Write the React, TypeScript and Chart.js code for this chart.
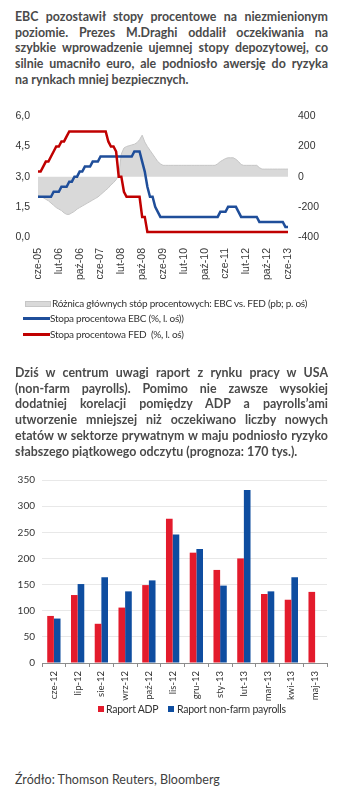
import React, { useEffect, useRef } from "react";
import { Chart, registerables } from "chart.js";

Chart.register(...registerables);

// ---------- Chart 1: monthly data, cze-05 .. cze-13 ----------
const MONTH_NAMES = ["sty", "lut", "mar", "kwi", "maj", "cze", "lip", "sie", "wrz", "paź", "lis", "gru"];
const RATE_LABELS: string[] = [];
for (let i = 0; i < 97; i++) {
  const m = (5 + i) % 12;
  const y = 5 + Math.floor((5 + i) / 12);
  RATE_LABELS.push(`${MONTH_NAMES[m]}-${String(y).padStart(2, "0")}`);
}

const FED_RATE = [
  3.25, 3.25, 3.5, 3.75, 3.75, 4.0, 4.25, 4.5, 4.5, 4.75, 4.75, 5.0, 5.25,
  5.25, 5.25, 5.25, 5.25, 5.25, 5.25, 5.25, 5.25, 5.25, 5.25, 5.25, 5.25, 5.25, 5.25,
  4.75, 4.5, 4.5, 4.25, 3.0, 3.0, 2.25,
  2.0, 2.0, 2.0, 2.0, 2.0, 2.0,
  1.0, 1.0,
  0.25, 0.25, 0.25, 0.25, 0.25, 0.25, 0.25, 0.25, 0.25, 0.25,
  0.25, 0.25, 0.25, 0.25, 0.25, 0.25, 0.25, 0.25, 0.25, 0.25,
  0.25, 0.25, 0.25, 0.25, 0.25, 0.25, 0.25, 0.25, 0.25, 0.25,
  0.25, 0.25, 0.25, 0.25, 0.25, 0.25, 0.25, 0.25, 0.25, 0.25,
  0.25, 0.25, 0.25, 0.25, 0.25, 0.25, 0.25, 0.25, 0.25, 0.25,
  0.25, 0.25, 0.25, 0.25, 0.25,
];

const EBC_RATE = [
  2.0, 2.0, 2.0, 2.0, 2.0, 2.0,
  2.25, 2.25, 2.25,
  2.5, 2.5, 2.5,
  2.75, 2.75,
  3.0, 3.0,
  3.25, 3.25,
  3.5, 3.5, 3.5,
  3.75, 3.75, 3.75,
  4.0, 4.0, 4.0, 4.0, 4.0, 4.0, 4.0, 4.0, 4.0, 4.0, 4.0, 4.0, 4.0,
  4.25, 4.25, 4.25,
  3.75, 3.25, 2.5, 2.0, 2.0, 1.5, 1.25,
  1.0, 1.0, 1.0, 1.0, 1.0, 1.0, 1.0, 1.0, 1.0, 1.0,
  1.0, 1.0, 1.0, 1.0, 1.0, 1.0, 1.0, 1.0, 1.0, 1.0,
  1.0, 1.0, 1.0,
  1.25, 1.25, 1.25,
  1.5, 1.5, 1.5, 1.5,
  1.25,
  1.0, 1.0, 1.0, 1.0, 1.0, 1.0, 1.0,
  0.75, 0.75, 0.75, 0.75, 0.75, 0.75, 0.75, 0.75, 0.75, 0.75,
  0.5, 0.5,
];

const RATE_SPREAD_BP = [
  -125, -130, -140, -150, -160, -175, -190, -205, -215, -225, -240, -250, -250,
  -240, -230, -215, -205, -195, -185, -175, -165, -155, -145, -135, -120, -105, -90,
  -75, -55, -40, -20, 10, 150, 190, 200, 205, 210, 215, 225, 245, 275,
  230, 200, 175, 150, 125, 100, 85,
  75, 75, 75, 75, 75, 75, 75, 75, 75, 75,
  75, 75, 75, 75, 75, 75, 75, 75, 75, 75, 75,
  85, 100, 110, 120, 125, 125, 125, 115, 100, 80,
  75, 75, 75, 75, 75, 75,
  60,
  50, 50, 50, 50, 50, 50, 50, 50, 50, 50, 50,
];

// ---------- Chart 2: payrolls ----------
const PAYROLL_MONTHS = ["cze-12", "lip-12", "sie-12", "wrz-12", "paź-12", "lis-12", "gru-12", "sty-13", "lut-13", "mar-13", "kwi-13", "maj-13"];
const ADP_REPORT = [90, 130, 75, 106, 149, 276, 211, 178, 200, 132, 121, 136];
const NFP_REPORT = [85, 151, 164, 137, 158, 246, 218, 148, 331, 137, 164, null];

const PARA1 = [
  "EBC pozostawił stopy procentowe na niezmienionym",
  "poziomie. Prezes M.Draghi oddalił oczekiwania na",
  "szybkie wprowadzenie ujemnej stopy depozytowej, co",
  "silnie umacniło euro, ale podniosło awersję do ryzyka",
  "na rynkach mniej bezpiecznych.",
];
const PARA2 = [
  "Dziś w centrum uwagi raport z rynku pracy w USA",
  "(non-farm payrolls). Pomimo nie zawsze wysokiej",
  "dodatniej korelacji pomiędzy ADP a payrolls’ami",
  "utworzenie mniejszej niż oczekiwano liczby nowych",
  "etatów w sektorze prywatnym w maju podniosło ryzyko",
  "słabszego piątkowego odczytu (prognoza: 170 tys.).",
];

const TEXT_FONT = "Lato, 'Noto Sans', sans-serif";

function Paragraph({ lines, top, lh }: { lines: string[]; top: number; lh: number }) {
  return (
    <>
      {lines.map((t, i) => {
        const last = i === lines.length - 1;
        return (
          <div
            key={i}
            style={{
              position: "absolute",
              left: 15,
              top: top + i * lh,
              width: 313,
              height: lh,
              lineHeight: `${lh}px`,
              fontFamily: TEXT_FONT,
              fontWeight: 700,
              fontSize: 12.4,
              color: "#4a4a4a",
              textAlign: last ? "left" : "justify",
              textAlignLast: last ? "left" : "justify",
            } as React.CSSProperties}
          >
            {t}
          </div>
        );
      })}
    </>
  );
}

export default function App() {
  const c1 = useRef<HTMLCanvasElement>(null);
  const c2 = useRef<HTMLCanvasElement>(null);

  useEffect(() => {
    document.body.style.margin = "0";
    const axisFont1 = { family: "'Liberation Sans', Arial, sans-serif", size: 10.5 };
    const chart1 = new Chart(c1.current!, {
      type: "line",
      data: {
        labels: RATE_LABELS,
        datasets: [
          {
            label: "Stopa procentowa FED (%, l. oś)",
            data: FED_RATE,
            borderColor: "#C00000",
            borderWidth: 2.5,
            pointRadius: 0,
            tension: 0,
            yAxisID: "y",
            order: 0,
          },
          {
            label: "Stopa procentowa EBC (%, l. oś))",
            data: EBC_RATE,
            borderColor: "#1F4E9A",
            borderWidth: 2.5,
            pointRadius: 0,
            tension: 0,
            yAxisID: "y",
            order: 1,
          },
          {
            label: "Różnica głównych stóp procentowych: EBC vs. FED (pb; p. oś)",
            data: RATE_SPREAD_BP,
            borderColor: "#C6C6C6",
            borderWidth: 1,
            backgroundColor: "#D9D9D9",
            fill: { value: 0 },
            pointRadius: 0,
            tension: 0,
            yAxisID: "y1",
            order: 2,
          },
        ],
      },
      options: {
        animation: false,
        responsive: false,
        maintainAspectRatio: false,
        layout: { padding: { top: 16, left: 0, right: 0, bottom: 0 } },
        plugins: { legend: { display: false }, tooltip: { enabled: false } },
        scales: {
          x: {
            grid: { display: false, drawTicks: false },
            border: { display: false },
            ticks: {
              autoSkip: false,
              minRotation: 90,
              maxRotation: 90,
              padding: 11,
              color: "#3a3a3a",
              font: axisFont1,
              callback: (_v: any, i: number) => (i % 8 === 0 ? RATE_LABELS[i] : ""),
            },
            afterFit: (s: any) => {
              s.height = 63;
            },
          },
          y: {
            position: "left",
            min: 0,
            max: 6,
            grid: { display: false, drawTicks: false },
            border: { display: false },
            ticks: {
              stepSize: 1.5,
              padding: 8,
              color: "#333",
              font: axisFont1,
              callback: (v: any) => Number(v).toFixed(1).replace(".", ","),
            },
            afterFit: (s: any) => {
              s.width = 38;
            },
          },
          y1: {
            position: "right",
            min: -400,
            max: 400,
            grid: { display: false, drawTicks: false },
            border: { display: false },
            ticks: { stepSize: 200, padding: 10, color: "#333", font: axisFont1 },
            afterFit: (s: any) => {
              s.width = 62;
            },
          },
        },
      },
    } as any);

    const axisFont2 = { family: TEXT_FONT, size: 10 };
    const chart2 = new Chart(c2.current!, {
      type: "bar",
      data: {
        labels: PAYROLL_MONTHS,
        datasets: [
          {
            label: "Raport ADP",
            data: ADP_REPORT,
            backgroundColor: "#E31B2C",
            categoryPercentage: 0.56,
            barPercentage: 1,
          },
          {
            label: "Raport non-farm payrolls",
            data: NFP_REPORT,
            backgroundColor: "#0E4DA0",
            categoryPercentage: 0.56,
            barPercentage: 1,
          },
        ],
      },
      options: {
        animation: false,
        responsive: false,
        maintainAspectRatio: false,
        layout: { padding: { top: 15, left: 0, right: 23, bottom: 0 } },
        plugins: { legend: { display: false }, tooltip: { enabled: false } },
        scales: {
          x: {
            grid: { offset: true, drawOnChartArea: false, drawTicks: true, tickLength: 4, color: "#8C8C8C" },
            border: { display: true, color: "#8C8C8C" },
            ticks: {
              autoSkip: false,
              minRotation: 90,
              maxRotation: 90,
              padding: 4,
              color: "#333",
              font: { family: TEXT_FONT, size: 9.5 },
            },
            afterFit: (s: any) => {
              s.height = 42;
            },
          },
          y: {
            min: 0,
            max: 350,
            grid: { color: "#E8E8E8", drawTicks: false },
            border: { display: false },
            ticks: { stepSize: 50, padding: 7, color: "#333", font: axisFont2 },
            afterFit: (s: any) => {
              s.width = 42;
            },
          },
        },
      },
    } as any);

    return () => {
      chart1.destroy();
      chart2.destroy();
    };
  }, []);

  const legendText: React.CSSProperties = {
    position: "absolute",
    left: 52,
    fontFamily: TEXT_FONT,
    fontSize: 10,
    letterSpacing: -0.25,
    color: "#333",
    whiteSpace: "pre",
    lineHeight: "12px",
  };

  return (
    <div style={{ position: "absolute", left: 0, top: 0, width: 350, height: 797, background: "#fff", overflow: "hidden" }}>
      <Paragraph lines={PARA1} top={9} lh={15.7} />

      <canvas ref={c1} width={350} height={200} style={{ position: "absolute", left: 0, top: 100, width: 350, height: 200 }} />

      {/* legend chart 1 */}
      <div style={{ position: "absolute", left: 25, top: 301, width: 24, height: 4, background: "#D9D9D9", border: "0.5px solid #C6C6C6" }} />
      <div style={{ ...legendText, top: 297 }}>Różnica głównych stóp procentowych: EBC vs. FED (pb; p. oś)</div>
      <div style={{ position: "absolute", left: 23, top: 317, width: 27, height: 2.5, background: "#1F4E9A" }} />
      <div style={{ ...legendText, left: 50, top: 312 }}>Stopa procentowa EBC (%, l. oś))</div>
      <div style={{ position: "absolute", left: 23, top: 333, width: 27, height: 2.5, background: "#C00000" }} />
      <div style={{ ...legendText, left: 50, top: 328 }}>Stopa procentowa FED  (%, l. oś)</div>

      <Paragraph lines={PARA2} top={365} lh={15.7} />

      <canvas ref={c2} width={350} height={240} style={{ position: "absolute", left: 0, top: 465, width: 350, height: 240 }} />

      {/* legend chart 2 */}
      <div style={{ position: "absolute", left: 98, top: 706, width: 6, height: 6, background: "#E31B2C" }} />
      <div style={{ ...legendText, left: 106, top: 703, fontSize: 10.5 }}>Raport ADP</div>
      <div style={{ position: "absolute", left: 168, top: 706, width: 6, height: 6, background: "#0E4DA0" }} />
      <div style={{ ...legendText, left: 177, top: 703, fontSize: 10.5 }}>Raport non-farm payrolls</div>

      <div
        style={{
          position: "absolute",
          left: 15,
          top: 772,
          fontFamily: TEXT_FONT,
          fontSize: 12.5,
          color: "#404040",
          lineHeight: "16px",
          whiteSpace: "pre",
        }}
      >
        Źródło: Thomson Reuters, Bloomberg
      </div>
    </div>
  );
}
